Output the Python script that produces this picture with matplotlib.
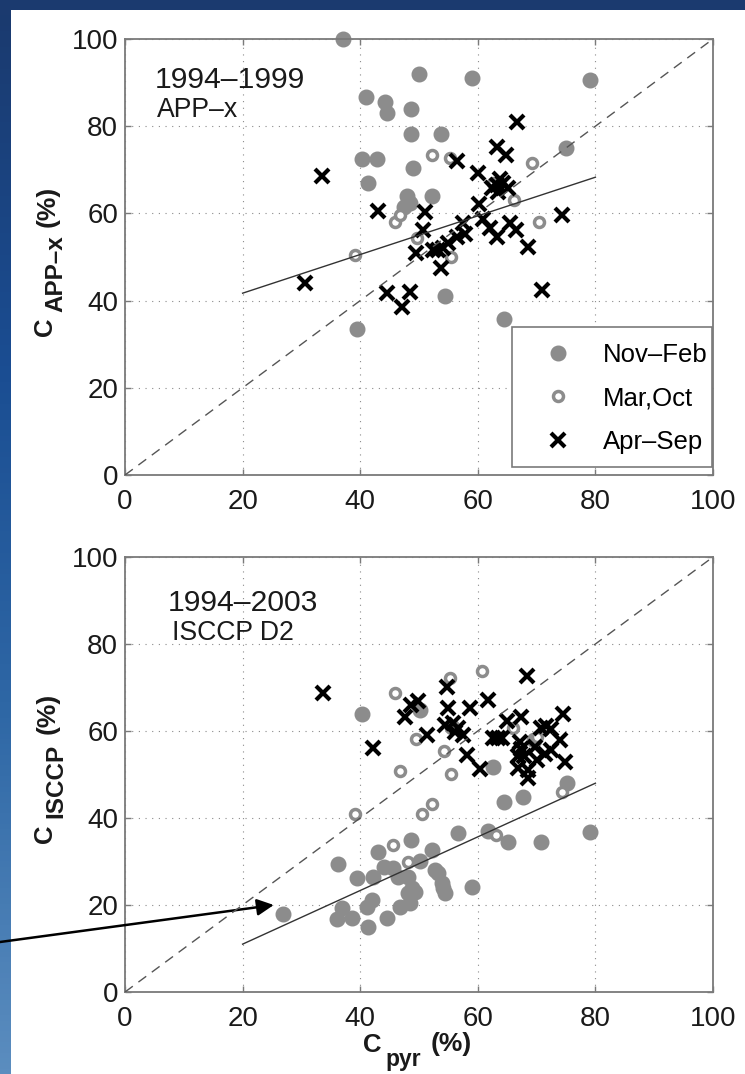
import numpy as np
import matplotlib
matplotlib.use("Agg")
import matplotlib.pyplot as plt
from matplotlib.patches import Rectangle

plt.rcParams['font.family'] = ['Liberation Sans', 'DejaVu Sans']

# top panel, 1994-1999 APP-x
nf_top_x = [37, 50, 59, 79, 41, 44.2, 44.5, 48.6, 48.6, 53.7, 40.3, 42.9, 49, 41.3, 48, 48.5, 47.5, 52.2, 75, 54.4, 64.4, 39.5]
nf_top_y = [100, 92, 91, 90.5, 86.7, 85.5, 83, 84, 78.2, 78.2, 72.5, 72.5, 70.4, 67, 64, 62.5, 61.5, 64, 75, 41, 35.8, 33.5]
mo_top_x = [52.2, 55.3, 69.2, 66.2, 70.4, 45.9, 46.8, 49.6, 55.5, 39.1, 62.5]
mo_top_y = [73.4, 72.7, 71.5, 63, 58, 58, 59.6, 54.4, 50, 50.5, 67]
as_top_x = [30.6, 33.5, 43, 44.5, 48.4, 47.1, 49.5, 51, 50.7, 52.4, 53.2, 54, 53.8, 55, 56.5, 57.8, 57.5, 56.5, 60,
            60.2, 60.8, 62.1, 63.3, 65.5, 66.5, 68.6, 74.3, 70.9, 63.3, 64.8, 66.7, 63.8, 63.3, 64.3, 62.4, 65.1, 63.4]
as_top_y = [44, 68.5, 60.5, 41.7, 42, 38.5, 51, 60.3, 56.2, 51.6, 51.6, 52, 47.5, 53.2, 54.5, 55.3, 57.8, 72, 69.3,
            62.2, 58.7, 56.6, 54.5, 57.9, 56.2, 52.3, 59.6, 42.5, 75.2, 73.3, 81, 68, 66.5, 67, 65.8, 65.8, 64.9]

# bottom panel, 1994-2003 ISCCP D2
nf_bot_x = [40.3, 50.2, 26.8, 36.3, 39.5, 42.1, 43, 44, 45.6, 46.4, 48.6, 52.2, 56.6, 50.2, 48.1, 48.8, 49.3, 48.1,
            48.5, 46.8, 52.7, 53.2, 53.9, 54.1, 54.4, 59, 61.7, 65.1, 64.5, 67.7, 70.7, 75.2, 79, 62.6, 42, 41.2,
            36.9, 38.6, 36, 44.6, 41.3, 69.5, 55.6]
nf_bot_y = [64, 64.8, 18, 29.5, 26.3, 26.5, 32.2, 28.7, 28.4, 26.4, 35, 32.6, 36.6, 30.1, 26.4, 23.9, 23, 22.8,
            20.5, 19.5, 28, 27.4, 25, 23.9, 22.8, 24.1, 37, 34.5, 43.6, 44.9, 34.5, 48, 36.8, 51.8, 21.1, 19.5,
            19.3, 17, 16.8, 17.1, 15, 58, 61]
mo_bot_x = [45.9, 55.3, 60.7, 49.5, 54.3, 46.8, 55.5, 52.2, 50.5, 39.1, 45.6, 48.1, 63.1, 74.3, 66, 70]
mo_bot_y = [68.7, 72.2, 73.8, 58.1, 55.3, 50.8, 50.1, 43.2, 40.9, 40.9, 33.8, 29.8, 36, 46, 60.7, 58.6]
as_bot_x = [33.7, 42.1, 47.6, 48.6, 49.9, 54.8, 54.9, 54.4, 55.8, 56.6, 57.5, 56.1, 58.7, 61.7, 51.4, 58.2, 60.4,
            68.4, 65, 67.3, 62.6, 63.4, 64.1, 74.5, 70.8, 71.6, 72.5, 74, 67.2, 67.4, 66.8, 67.8, 69.8, 70, 71.5,
            72.4, 74.9, 66.8, 68.6, 68.5]
as_bot_y = [68.7, 56.1, 63.2, 66, 67, 70.1, 65.3, 61.4, 61.8, 60.7, 59.1, 59.8, 65.3, 67.1, 59.1, 54.5, 51.2,
            72.7, 62.3, 63.2, 58.4, 58.4, 58.4, 64, 60.8, 61.2, 60.5, 57.9, 57.5, 55.8, 54.3, 54.2, 56.3, 53.3, 54.6,
            55.6, 52.9, 51.5, 49.3, 51]

# linear fits (end points) and 1:1 line
fit_x = [20, 80]
fit_top_y = [41.7, 68.3]
fit_bot_y = [11.0, 48.0]
one_x = [0, 100]
ticks = [0, 20, 40, 60, 80, 100]
labels = ['Nov\u2013Feb', 'Mar,Oct', 'Apr\u2013Sep']

W, H = 745, 1074
navy = '#1b3a6f'
fig = plt.figure(figsize=(W / 100, H / 100), dpi=100, facecolor=navy)

# slide background: white panel, blue strip on the left
fig.patches.append(Rectangle((11 / W, 0), 1, 1 - 10 / H, transform=fig.transFigure,
                             facecolor='white', edgecolor='none', zorder=-10))
strip = fig.add_axes([0, 0, 11 / W, 1 - 10 / H], zorder=-5)
grad = np.linspace(0, 1, 200).reshape(-1, 1)
strip.imshow(grad, aspect='auto', cmap=matplotlib.colors.LinearSegmentedColormap.from_list(
    'sea', [navy, '#1a4d92', '#2f68a6', '#5b8dbf']), extent=[0, 1, 0, 1], origin='upper')
strip.axis('off')


def style(ax):
    ax.set_xlim(0, 100)
    ax.set_ylim(0, 100)
    ax.set_xticks(ticks)
    ax.set_yticks(ticks)
    ax.grid(True, linestyle=(0, (1, 5)), color='#8a8a8a', lw=0.8)
    ax.set_axisbelow(True)
    for s in ax.spines.values():
        s.set_color('#7a7a7a')
        s.set_linewidth(1.3)
    ax.tick_params(direction='in', top=True, right=True, length=4.5, width=1, color='#7a7a7a',
                   labelsize=20, labelcolor='#1a1a1a')
    ax.tick_params(axis='x', pad=10)
    ax.tick_params(axis='y', pad=5)


def draw(ax, nfx, nfy, mox, moy, asx, asy, fy):
    ax.plot(nfx, nfy, 'o', ms=10.5, color='#8c8c8c', mec='#8c8c8c', clip_on=False, label=labels[0])
    ax.plot(mox, moy, 'o', ms=7.2, mfc='white', mec='#8c8c8c', mew=2.5, label=labels[1])
    ax.plot(asx, asy, 'x', ms=10.5, mew=3, color='black', label=labels[2])
    ax.plot(one_x, one_x, color='#555555', lw=1, linestyle=(0, (7, 5)), zorder=4)
    ax.plot(fit_x, fy, color='#333333', lw=1, zorder=4)
    style(ax)


def px(x, y):
    return x / W, 1 - y / H


ax1 = fig.add_axes([125 / W, 1 - 475 / H, 588 / W, 436 / H])
draw(ax1, nf_top_x, nf_top_y, mo_top_x, mo_top_y, as_top_x, as_top_y, fit_top_y)
ax1.text(5.0, 88.8, '1994\u20131999', fontsize=21.7, color='#1a1a1a')
ax1.text(5.5, 82.1, 'APP\u2013x', fontsize=19.2, color='#1a1a1a')
# legend box drawn separately so the padding matches
ax1.add_patch(Rectangle((0.658, 0.018), 0.340, 0.321, transform=ax1.transAxes, facecolor='white',
                        edgecolor='#7a7a7a', lw=1.2, zorder=4.6))
ax1.legend(loc='center left', bbox_to_anchor=(0.710, 0.1755), fontsize=18.5, frameon=False,
           borderaxespad=0, borderpad=0, handlelength=1.2, handletextpad=1.15, labelspacing=0.76, numpoints=1)

ax2 = fig.add_axes([125 / W, 1 - 992 / H, 588 / W, 435 / H])
draw(ax2, nf_bot_x, nf_bot_y, mo_bot_x, mo_bot_y, as_bot_x, as_bot_y, fit_bot_y)
ax2.text(7.3, 87.6, '1994\u20132003', fontsize=21.7, color='#1a1a1a')
ax2.text(8.0, 80.9, 'ISCCP D2', fontsize=19.2, color='#1a1a1a')

# axis labels built from pieces: large C, large subscript, then (%)
lab = dict(fontweight='bold', color='#1a1a1a', rotation_mode='anchor')
for cy, sub in [(327, 'APP\u2013x'), (834, 'ISCCP')]:
    fig.text(*px(52, cy), 'C', rotation=90, ha='center', va='baseline', fontsize=18.5, **lab)
    fig.text(*px(62, cy - 53), sub, rotation=90, ha='center', va='baseline', fontsize=17.5, **lab)
    fig.text(*px(55, cy - 121), '(%)', rotation=90, ha='center', va='baseline', fontsize=19, **lab)
fig.text(*px(363, 1052), 'C', ha='left', va='baseline', fontsize=18.5, **lab)
fig.text(*px(385, 1066), 'pyr', ha='left', va='baseline', fontsize=16.5, **lab)
fig.text(*px(431, 1051), '(%)', ha='left', va='baseline', fontsize=19, **lab)

# arrow pointing at the lowest-cloud winter point
ax2.annotate('', xy=(25.3, 20), xycoords='data', xytext=px(0, 942), textcoords='figure fraction',
             arrowprops=dict(arrowstyle='-|>', color='black', lw=1.8, mutation_scale=25, shrinkA=0, shrinkB=0),
             annotation_clip=False)

plt.savefig('out.png', dpi=100, facecolor=fig.get_facecolor())
